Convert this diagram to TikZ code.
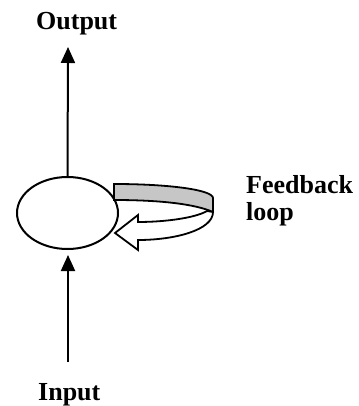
\documentclass[tikz,border=0pt]{standalone}
\usepackage{fontspec}
\setmainfont{Liberation Serif}
\usetikzlibrary{shapes.geometric,arrows.meta}
\begin{document}
\begin{tikzpicture}[x=1pt,y=-1pt,
  lbl/.style={font=\fontsize{26}{27}\selectfont\bfseries,inner sep=0pt,anchor=base west,align=left},
  flow/.style={line width=2pt,-{Triangle[length=16pt,width=14pt]}},
  ribbon/.style={line width=1.8pt,line join=miter}]
\useasboundingbox (0,0) rectangle (358,406);
\node[ellipse,draw,line width=2pt,minimum width=101pt,minimum height=72pt,inner sep=0pt] (e) at (67.5,213) {};
\node[lbl] (out) at (36,30) {Output};
\node[lbl] (in) at (38,400) {Input};
\node[lbl] (fb) at (246,220) {Feedback\\loop};
\coordinate (otip) at (68,47);
\coordinate (ibase) at (68,362);
\coordinate (itip) at (68,255);
\draw[flow] (e.north) -- (otip);
\draw[flow] (ibase) -- (itip);
% feedback ribbon: back (gray) part
\draw[ribbon,fill=gray!45] (114,184) .. controls (170,184) and (213,190) .. (213,198)
  -- (213,212) .. controls (195,204) and (160,200) .. (114,200) -- cycle;
% front (white) part with hollow arrow head
\draw[ribbon,fill=white] (213,212) .. controls (213,230) and (175,240) .. (138,240)
  -- (138,250) -- (115,233) -- (138,215) -- (138,222)
  .. controls (165,222) and (195,218) .. (207,211) -- (213,212) -- cycle;
\end{tikzpicture}
\end{document}
